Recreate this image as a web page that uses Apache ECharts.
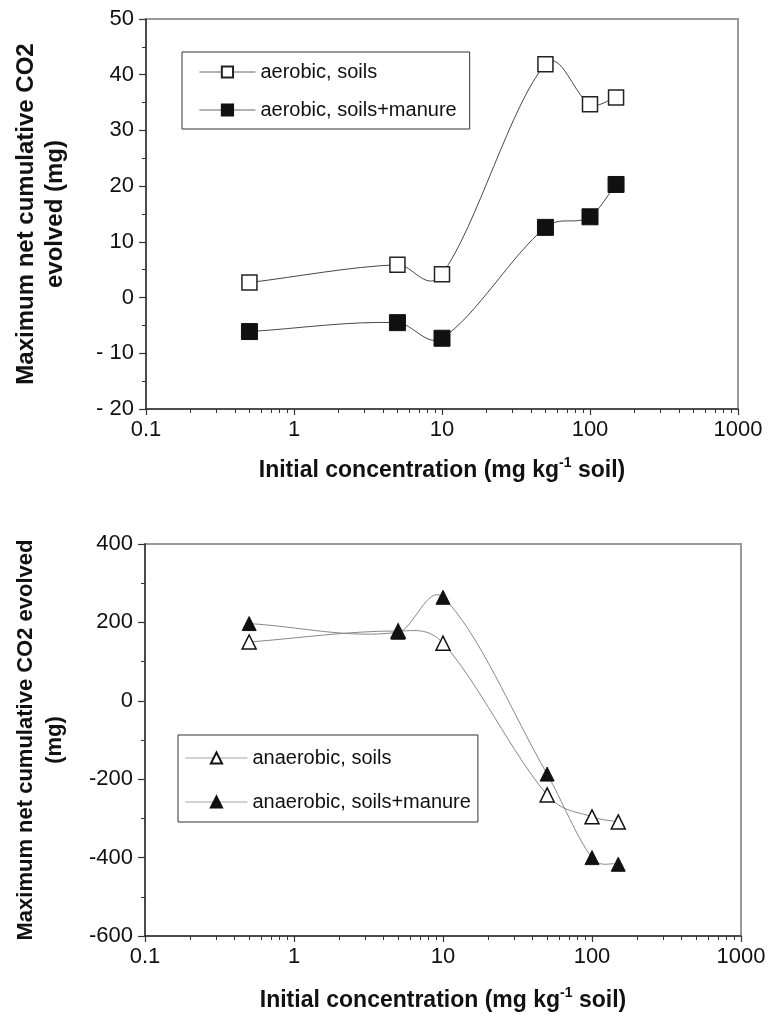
<!DOCTYPE html>
<html>
<head>
<meta charset="utf-8">
<script src="https://cdn.jsdelivr.net/npm/echarts@6/dist/echarts.min.js"></script>
<style>
html,body{margin:0;padding:0;background:#fff;}
#c{width:778px;height:1015px;}
</style>
</head>
<body>
<div id="c"></div>
<script>
// ---- data ----
var concentrations = [0.5, 5, 10, 50, 100, 150];
var aerobicSoils = [2.7, 5.9, 4.2, 41.9, 34.7, 35.9];
var aerobicManure = [-6.1, -4.5, -7.3, 12.6, 14.5, 20.3];
var anaerobicSoils = [150, 178, 147, -240, -296, -309];
var anaerobicManure = [197, 175, 264, -187, -400, -417];
var xTickValues = [0.1, 1, 10, 100, 1000];
var xMinorTickValues = [0.2,0.3,0.4,0.5,0.6,0.7,0.8,0.9,2,3,4,5,6,7,8,9,20,30,40,50,60,70,80,90,200,300,400,500,600,700,800,900];
var topYTicks = [-20, -10, 0, 10, 20, 30, 40, 50];
var bottomYTicks = [-600, -400, -200, 0, 200, 400];
var seriesNames = ['aerobic, soils', 'aerobic, soils+manure', 'anaerobic, soils', 'anaerobic, soils+manure'];

function pairs(xs, ys){ return xs.map(function(x,i){ return [x, ys[i]]; }); }

var FONT = '"Liberation Sans", Arial, Helvetica, sans-serif';
var AX = '#333';

function xAxisMain(grid, gap){
  return {
    type:'log', logBase:10, gridIndex:grid, min:0.1, max:1000, position:'bottom',
    axisLine:{show:true, onZero:false, lineStyle:{color:AX, width:1.5}},
    axisTick:{show:true, inside:false, length:6, customValues:xTickValues, lineStyle:{color:AX, width:1.2}},
    axisLabel:{show:true, customValues:xTickValues, margin:10, color:'#111', fontSize:22, fontFamily:FONT,
      formatter:function(v){ return String(v); }},
    splitLine:{show:false}, minorTick:{show:false},
    name:'{a|Initial concentration (mg kg}{s|-1}{a| soil)}',
    nameLocation:'middle', nameGap:gap,
    nameTextStyle:{rich:{
      a:{fontSize:23, fontWeight:'bold', fontFamily:FONT, color:'#111', verticalAlign:'bottom', lineHeight:26},
      s:{fontSize:14, fontWeight:'bold', fontFamily:FONT, color:'#111', verticalAlign:'top', lineHeight:26, padding:[0,0,12,0]}
    }}
  };
}
function xAxisMinor(grid){
  return {
    type:'log', logBase:10, gridIndex:grid, min:0.1, max:1000, position:'bottom',
    axisLine:{show:false, onZero:false},
    axisTick:{show:true, inside:false, length:4, customValues:xMinorTickValues, lineStyle:{color:AX, width:1}},
    axisLabel:{show:false}, splitLine:{show:false}
  };
}
function yAxis(grid, min, max, interval, name, gap, nameSize, fmt){
  return {
    type:'value', gridIndex:grid, min:min, max:max, interval:interval,
    axisLine:{show:true, onZero:false, lineStyle:{color:AX, width:1.5}},
    axisTick:{show:true, inside:false, length:7, lineStyle:{color:AX, width:1.2}},
    minorTick:{show:true, splitNumber:2, length:4, lineStyle:{color:AX, width:1}},
    axisLabel:{margin:12, color:'#111', fontSize:22, fontFamily:FONT, formatter:fmt},
    splitLine:{show:false},
    name:name, nameLocation:'middle', nameRotate:90, nameGap:gap,
    nameTextStyle:{fontSize:nameSize, fontWeight:'bold', fontFamily:FONT, color:'#111', lineHeight:29, align:'center'}
  };
}

// piecewise cubic Hermite curve (finite-difference tangents) through the library-projected points
function splineCurve(xIdx, yIdx, xs, ys, color, width, z){
  return {
    type:'custom', xAxisIndex:xIdx, yAxisIndex:yIdx, silent:true, z:z,
    data:pairs(xs, ys),
    renderItem:function(params, api){
      if (params.dataIndex !== 0) return null;
      var p = xs.map(function(x,i){ return api.coord([x, ys[i]]); });
      var n = p.length, i, m = [];
      for (i=0;i<n;i++){
        var a = p[Math.max(i-1,0)], b = p[Math.min(i+1,n-1)];
        m.push((b[1]-a[1])/(b[0]-a[0]));
      }
      var children=[];
      for (i=0;i<n-1;i++){
        var x0=p[i][0], y0=p[i][1], x1=p[i+1][0], y1=p[i+1][1], hi=x1-x0;
        children.push({type:'bezierCurve', shape:{x1:x0,y1:y0,x2:x1,y2:y1,
          cpx1:x0+hi/3, cpy1:y0+hi/3*m[i], cpx2:x1-hi/3, cpy2:y1-hi/3*m[i+1]},
          style:{stroke:color, lineWidth:width, fill:null}});
      }
      return {type:'group', children:children};
    }
  };
}

function legendCfg(names, left, top, padding, gap, iw, lineColor){
  return {data:names, orient:'vertical', left:left, top:top,
    padding:padding, itemGap:gap, itemWidth:iw, itemHeight:14,
    borderColor:'#333', borderWidth:1, backgroundColor:'#fff',
    lineStyle:{color:lineColor, width:0.9, opacity:1},
    textStyle:{fontSize:20, fontFamily:FONT, color:'#111'}};
}

var option = {
  backgroundColor:'#fff',
  animation:false,
  grid:[
    {left:146, top:19, width:592, height:390, show:true, borderColor:'#999', borderWidth:2, backgroundColor:'transparent'},
    {left:145, top:544, width:596, height:392, show:true, borderColor:'#999', borderWidth:2, backgroundColor:'transparent'}
  ],
  xAxis:[ xAxisMain(0, 47), xAxisMinor(0), xAxisMain(1, 50), xAxisMinor(1) ],
  yAxis:[
    yAxis(0, topYTicks[0], topYTicks[topYTicks.length-1], 10, 'Maximum net cumulative CO2\nevolved (mg)', 76, 24,
      function(v){ return v < 0 ? '- ' + Math.abs(v) : String(v); }),
    yAxis(1, bottomYTicks[0], bottomYTicks[bottomYTicks.length-1], 200, 'Maximum net cumulative CO2 evolved\n(mg)', 76, 22,
      function(v){ return String(v); })
  ],
  legend:[
    legendCfg([seriesNames[0], seriesNames[1]], 182, 52, [10,13,9,17], 18, 56, '#555'),
    legendCfg([seriesNames[2], seriesNames[3]], 178, 735, [13,7,10,7], 24, 62, '#999')
  ],
  series:[
    splineCurve(0, 0, concentrations, aerobicSoils, '#333', 0.9, 2),
    splineCurve(0, 0, concentrations, aerobicManure, '#333', 0.9, 2),
    splineCurve(2, 1, concentrations, anaerobicSoils, '#888', 1, 2),
    splineCurve(2, 1, concentrations, anaerobicManure, '#888', 1, 2),
    {name:seriesNames[0], type:'line', xAxisIndex:0, yAxisIndex:0,
     data:pairs(concentrations, aerobicSoils), symbol:'rect', symbolSize:15,
     itemStyle:{color:'#fff', borderColor:'#222', borderWidth:1.5},
     lineStyle:{color:'#333', width:0.9, opacity:0}, z:3},
    {name:seriesNames[1], type:'line', xAxisIndex:0, yAxisIndex:0,
     data:pairs(concentrations, aerobicManure), symbol:'rect', symbolSize:16,
     itemStyle:{color:'#111', borderColor:'#111', borderWidth:1},
     lineStyle:{color:'#333', width:0.9, opacity:0}, z:3},
    {name:seriesNames[2], type:'line', xAxisIndex:2, yAxisIndex:1,
     data:pairs(concentrations, anaerobicSoils), symbol:'triangle', symbolSize:14,
     itemStyle:{color:'#fff', borderColor:'#111', borderWidth:1.5},
     lineStyle:{color:'#888', width:1, opacity:0}, z:3},
    {name:seriesNames[3], type:'line', xAxisIndex:2, yAxisIndex:1,
     data:pairs(concentrations, anaerobicManure), symbol:'triangle', symbolSize:14,
     itemStyle:{color:'#111', borderColor:'#111', borderWidth:1},
     lineStyle:{color:'#888', width:1, opacity:0}, z:4}
  ]
};
var chart = echarts.init(document.getElementById('c'), null, {renderer:'canvas'});
chart.setOption(option);
</script>
</body>
</html>
